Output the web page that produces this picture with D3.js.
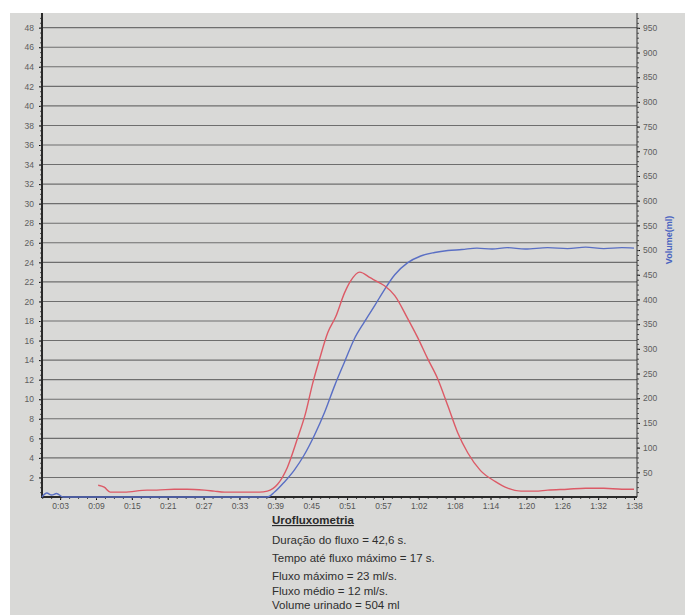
<!DOCTYPE html>
<html>
<head>
<meta charset="utf-8">
<script src="https://cdn.jsdelivr.net/npm/d3@7"></script>
<style>
  body { margin: 0; background: #fff; }
  text { font-family: "Liberation Sans", Arial, sans-serif; }
</style>
</head>
<body>
<div id="chart"></div>
<script>
var width = 685;
var height = 615;

// flow curve (ml/s)
var flowTime = [9.3, 10.3, 11.3, 13.6, 17.4, 19, 21.9, 24, 26.9, 28.5, 30.2, 34, 36, 37.3, 39, 40.6, 42.3, 43.6, 44.8, 45.9, 47.3, 48.6, 50.1, 51.1, 52.6, 54.4, 55.6, 56.7, 58.4, 60.5, 62.2, 63.8, 65.5, 67.2, 68.8, 70.5, 72.6, 75, 77.1, 79.3, 81.6, 83.7, 87, 90, 93, 96, 98];
var flowValues = [1.2, 1.0, 0.5, 0.5, 0.7, 0.7, 0.8, 0.8, 0.7, 0.6, 0.5, 0.5, 0.5, 0.6, 1.3, 3.0, 6.0, 8.5, 11.6, 14.0, 16.8, 18.4, 20.9, 22.1, 23.0, 22.4, 22.0, 21.6, 20.6, 18.3, 16.3, 14.2, 12.1, 9.3, 6.6, 4.5, 2.7, 1.6, 0.9, 0.6, 0.6, 0.7, 0.8, 0.9, 0.9, 0.8, 0.8];

// volume curve (ml)
var volTime = [0, 0.8, 1.6, 2.4, 3.5, 10, 20, 30, 37.3, 38.5, 40.1, 41.8, 43.4, 45.1, 46.8, 48.4, 50.1, 51.7, 53.4, 55.1, 56.7, 58.4, 60.5, 62.7, 65, 67.2, 69.5, 72, 74.5, 77, 80, 83.7, 87, 90, 93, 96, 98];
var volValues = [0, 8, 4, 7, 0, 0, 0, 0, 0, 10, 30, 55, 85, 125, 172, 224, 274, 320, 355, 388, 420, 450, 474, 488, 495, 499, 501, 504, 502, 505, 502, 505, 503, 506, 503, 505, 504];

var xTickLabels = ["0:03", "0:09", "0:15", "0:21", "0:27", "0:33", "0:39", "0:45", "0:51", "0:57", "1:02", "1:08", "1:14", "1:20", "1:26", "1:32", "1:38"];
var flowTicks = [2, 4, 6, 8, 10, 12, 14, 16, 18, 20, 22, 24, 26, 28, 30, 32, 34, 36, 38, 40, 42, 44, 46, 48];
var volTicks = [50, 100, 150, 200, 250, 300, 350, 400, 450, 500, 550, 600, 650, 700, 750, 800, 850, 900, 950];

var summaryTitle = "Urofluxometria";
var summaryLines = [
  "Duração do fluxo = 42,6 s.",
  "Tempo até fluxo máximo = 17 s.",
  "Fluxo máximo = 23 ml/s.",
  "Fluxo médio = 12 ml/s.",
  "Volume urinado = 504 ml"
];

var plotLeft = 42, plotRight = 637, plotTop = 13, plotBottom = 497;

var svg = d3.select("#chart").append("svg")
  .attr("width", width)
  .attr("height", height);

// paper
svg.append("rect")
  .attr("x", 10).attr("y", 13)
  .attr("width", width - 10).attr("height", height - 13)
  .attr("fill", "#d9d9d7");

var xScale = d3.scaleLinear().domain([0, 98.5]).range([plotLeft, plotRight]);
var yFlow = d3.scaleLinear().domain([0, 49.5]).range([plotBottom, plotTop]);
var yVol = d3.scaleLinear().domain([0, 980]).range([plotBottom, plotTop]);

// grid lines
svg.append("g")
  .selectAll("line")
  .data(flowTicks)
  .enter()
  .append("line")
    .attr("x1", plotLeft).attr("x2", plotRight)
    .attr("y1", function(d) { return yFlow(d); })
    .attr("y2", function(d) { return yFlow(d); })
    .attr("stroke", "#6e6e6e")
    .attr("stroke-width", 1.1);

// left axis, minor ticks every 0.5
var leftAxis = d3.axisLeft(yFlow).tickValues(flowTicks).tickSize(3).tickPadding(5);
var gLeft = svg.append("g").attr("transform", "translate(" + plotLeft + ",0)").call(leftAxis);
gLeft.selectAll("text").attr("font-size", 8.5).attr("fill", "#5e5e5e");
gLeft.select(".domain").remove();
svg.append("g").attr("transform", "translate(" + plotLeft + ",0)")
  .call(d3.axisLeft(yFlow).tickValues(d3.range(0.5, 49.5, 0.5)).tickSize(2).tickFormat(""))
  .call(function(g) { g.select(".domain").remove(); })
  .selectAll("line").attr("stroke", "#555");

// right axis
var rightAxis = d3.axisRight(yVol).tickValues(volTicks).tickSize(3).tickPadding(3);
var gRight = svg.append("g").attr("transform", "translate(" + plotRight + ",0)").call(rightAxis);
gRight.selectAll("text").attr("font-size", 8.5).attr("fill", "#5e5e5e");
gRight.select(".domain").remove();
svg.append("g").attr("transform", "translate(" + plotRight + ",0)")
  .call(d3.axisRight(yVol).tickValues(d3.range(10, 980, 10)).tickSize(2).tickFormat(""))
  .call(function(g) { g.select(".domain").remove(); })
  .selectAll("line").attr("stroke", "#555");

// bottom axis: labels spaced evenly from 0:03 to 1:38
var xTickPos = xTickLabels.map(function(d, i) { return 3 + i * 95 / 16; });
var bottomAxis = d3.axisBottom(xScale).tickValues(xTickPos)
  .tickFormat(function(d, i) { return xTickLabels[i]; })
  .tickSize(3).tickPadding(3);
var gBottom = svg.append("g").attr("transform", "translate(0," + plotBottom + ")").call(bottomAxis);
gBottom.selectAll("text").attr("font-size", 8.5).attr("fill", "#555");
gBottom.select(".domain").remove();
svg.append("g").attr("transform", "translate(0," + plotBottom + ")")
  .call(d3.axisBottom(xScale).tickValues(d3.range(3 - 95 / 32, 98.5, 95 / 64)).tickSize(2).tickFormat(""))
  .call(function(g) { g.select(".domain").remove(); })
  .selectAll("line").attr("stroke", "#444");

// axis lines
svg.append("line").attr("x1", plotLeft).attr("x2", plotLeft).attr("y1", plotTop).attr("y2", plotBottom + 1)
  .attr("stroke", "#2a2a2a").attr("stroke-width", 2);
svg.append("line").attr("x1", plotLeft - 1).attr("x2", plotRight).attr("y1", plotBottom).attr("y2", plotBottom)
  .attr("stroke", "#2a2a2a").attr("stroke-width", 2);
svg.append("line").attr("x1", plotRight).attr("x2", plotRight).attr("y1", plotTop).attr("y2", plotBottom)
  .attr("stroke", "#333").attr("stroke-width", 1);

// curves
var flowLine = d3.line()
  .x(function(d, i) { return xScale(flowTime[i]); })
  .y(function(d) { return yFlow(d); })
  .curve(d3.curveMonotoneX);
var volLine = d3.line()
  .x(function(d, i) { return xScale(volTime[i]); })
  .y(function(d) { return yVol(d); })
  .curve(d3.curveMonotoneX);

svg.append("path")
  .attr("d", volLine(volValues))
  .attr("fill", "none")
  .attr("stroke", "#5a6fc4")
  .attr("stroke-width", 1.4);
svg.append("path")
  .attr("d", flowLine(flowValues))
  .attr("fill", "none")
  .attr("stroke", "#dc5a66")
  .attr("stroke-width", 1.4);

// axis titles
svg.append("text")
  .attr("transform", "translate(672,240) rotate(-90)")
  .attr("text-anchor", "middle")
  .attr("font-size", 9)
  .attr("font-weight", "bold")
  .attr("fill", "#4a64c0")
  .text("Volume(ml)");

svg.append("clipPath").attr("id", "paperClip")
  .append("rect").attr("x", 10).attr("y", 13).attr("width", 100).attr("height", 600);
svg.append("text")
  .attr("clip-path", "url(#paperClip)")
  .attr("transform", "translate(15,258) rotate(-90)")
  .attr("text-anchor", "middle")
  .attr("font-size", 9)
  .attr("font-weight", "bold")
  .attr("fill", "#d05060")
  .attr("opacity", 0.7)
  .text("Fluxo(ml/s)");

// summary block
svg.append("text")
  .attr("x", 272).attr("y", 524)
  .attr("font-size", 11.5)
  .attr("font-weight", "bold")
  .attr("fill", "#2a2a2a")
  .attr("text-decoration", "underline")
  .text(summaryTitle);

var lineY = [544, 562, 580, 595, 609];
svg.append("g")
  .selectAll("text")
  .data(summaryLines)
  .enter()
  .append("text")
    .attr("x", 272)
    .attr("y", function(d, i) { return lineY[i]; })
    .attr("font-size", 11.5)
    .attr("fill", "#2e2e2e")
    .text(function(d) { return d; });
</script>
</body>
</html>
